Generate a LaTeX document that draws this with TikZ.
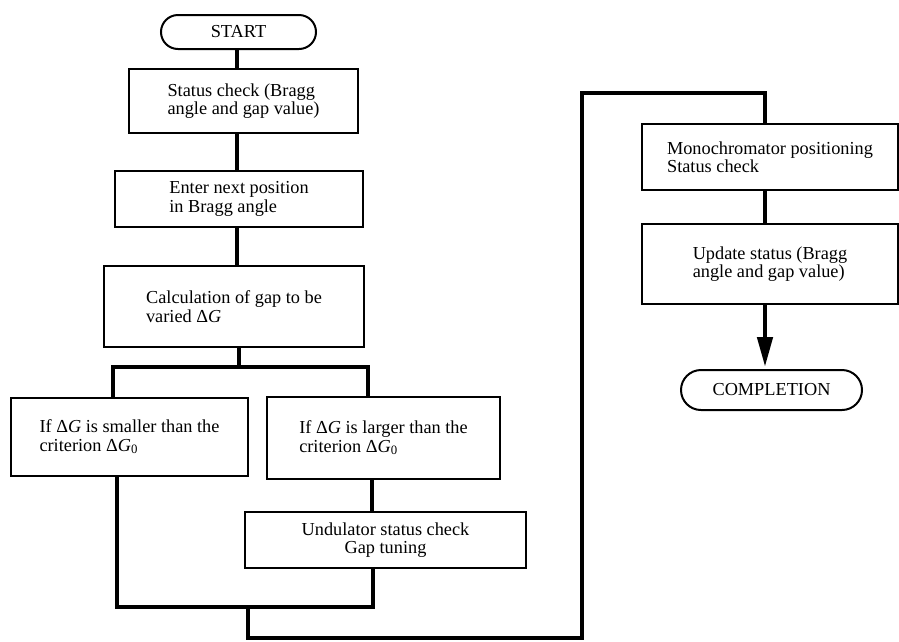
\documentclass[tikz,border=0pt]{standalone}
\usepackage{fontspec}
\setmainfont{Liberation Serif}
\usetikzlibrary{arrows.meta}
\newcommand\boxfont{\fontsize{18.3pt}{18.5pt}\selectfont}
\newcommand\DG{\textup{Δ}\textit{G}}
\begin{document}
\begin{tikzpicture}[x=1pt,y=-1pt,
  box/.style={draw, line width=2.2pt, inner sep=0pt, font=\boxfont, align=left},
  term/.style={draw, line width=2pt, inner sep=0pt, font=\boxfont},
  conn/.style={line width=4.6pt, line join=miter}
]
\useasboundingbox (0,0) rectangle (899,641);

% nodes
\node[term, minimum width=155pt, minimum height=34pt, rounded corners=17pt] (start) at (238.5,32) {START};
\node[box, minimum width=229pt, minimum height=64pt] (status) at (243.5,101) {Status check (Bragg\\angle and gap value)};
\node[box, minimum width=248pt, minimum height=56pt] (enter) at (239,199) {Enter next position\\in Bragg angle};
\node[box, minimum width=260pt, minimum height=81pt] (calc) at (234,306.5) {Calculation of gap to be\\varied \DG};
\node[box, minimum width=237pt, minimum height=78pt] (small) at (129.5,437) {If \DG{} is smaller than the\\criterion \DG\textsubscript{0}};
\node[box, minimum width=233pt, minimum height=82pt] (large) at (383.5,438) {If \DG{} is larger than the\\criterion \DG\textsubscript{0}};
\node[box, align=center, minimum width=281pt, minimum height=56pt] (und) at (385.5,540) {Undulator status check\\Gap tuning};
\node[box, minimum width=256pt, minimum height=66pt] (mono) at (770,157) {Monochromator positioning\\Status check};
\node[box, minimum width=256pt, minimum height=80pt] (upd) at (770,264) {Update status (Bragg\\angle and gap value)};
\node[term, minimum width=181pt, minimum height=40pt, rounded corners=20pt] (comp) at (771.5,390) {COMPLETION};

% helper coordinates
\coordinate (cx) at (237,0);
\coordinate (cc) at (239,367);
\coordinate (bl) at (113,367);
\coordinate (br) at (368,367);
\coordinate (ux) at (372,0);
\coordinate (ja) at (117,607);
\coordinate (jb) at (373,607);
\coordinate (jm) at (248,607);
\coordinate (d1) at (248,638);
\coordinate (d2) at (582,638);
\coordinate (d3) at (582,93);
\coordinate (d4) at (765,93);

% connectors
\draw[conn] (cx |- start.south) -- (cx |- status.north);
\draw[conn] (cx |- status.south) -- (cx |- enter.north);
\draw[conn] (cx |- enter.south) -- (cx |- calc.north);
\draw[conn] (cc |- calc.south) -- (cc);
\draw[conn] (bl |- small.north) -- (bl) -- (br) -- (br |- large.north);
\draw[conn] (ux |- large.south) -- (ux |- und.north);
\draw[conn] (ja |- small.south) -- (ja) -- (jb) -- (jb |- und.south);
\draw[conn] (jm) -- (d1) -- (d2) -- (d3) -- (d4) -- (d4 |- mono.north);
\draw[conn] (d4 |- mono.south) -- (d4 |- upd.north);
\draw[conn, -{Triangle[width=15pt,length=30pt]}, shorten >=2pt] (d4 |- upd.south) -- (d4 |- comp.north);
\end{tikzpicture}
\end{document}
